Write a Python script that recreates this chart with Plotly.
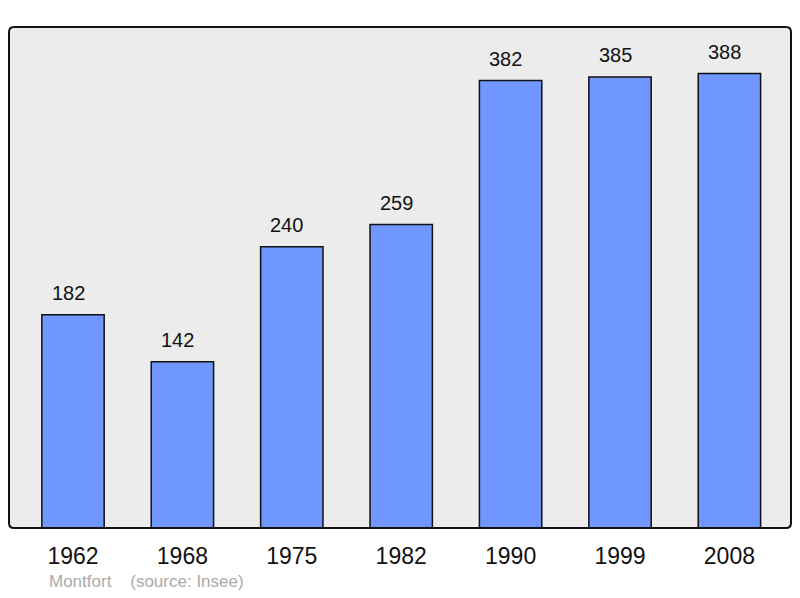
import plotly.graph_objects as go

# Population data for Montfort (source: Insee)
years = ['1962', '1968', '1975', '1982', '1990', '1999', '2008']
population = [182, 142, 240, 259, 382, 385, 388]

FONT = 'Liberation Sans, Arial, sans-serif'

fig = go.Figure()
fig.add_trace(go.Bar(x=years, y=population, width=0.57,
                     marker=dict(color='#7096ff', line=dict(color='#111111', width=1.5))))

# value labels above each bar (category axis -> position by index)
for i, val in enumerate(population):
    fig.add_annotation(x=i, y=val, xref='x', yref='y', text=str(val), showarrow=False,
                       yanchor='middle', yshift=22, xshift=-5,
                       font=dict(family=FONT, size=20, color='#111111'))

# footer
fig.add_annotation(xref='paper', yref='paper', x=0.0485, y=-0.106, xanchor='left', yanchor='middle',
                   text='Montfort&nbsp;&nbsp;&nbsp;&nbsp;(source: Insee)', showarrow=False,
                   font=dict(family=FONT, size=17, color='#aaaaaa'))

# frame around the plot area, slightly rounded corners
rx, ry = 5 / 782, 5 / 501
frame = (f'M {rx},0 L {1 - rx},0 Q 1,0 1,{ry} L 1,{1 - ry} Q 1,1 {1 - rx},1 '
         f'L {rx},1 Q 0,1 0,{1 - ry} L 0,{ry} Q 0,0 {rx},0 Z')
fig.add_shape(type='path', xref='paper', yref='paper', path=frame,
              line=dict(color='#111111', width=2), layer='above')

# body has an 8px margin in the page, so the figure is 16px smaller than the window
fig.update_layout(width=784, height=582, margin=dict(l=1, r=1, t=19, b=62),
                  plot_bgcolor='#ececec', paper_bgcolor='white', showlegend=False,
                  xaxis=dict(type='category', range=[-0.585, 6.563], showgrid=False, ticks='',
                             tickfont=dict(family=FONT, size=23, color='#111111'), ticklabelstandoff=12),
                  yaxis=dict(range=[0, 427.7], showgrid=False, showticklabels=False, zeroline=False))

fig.write_html("out.html")
